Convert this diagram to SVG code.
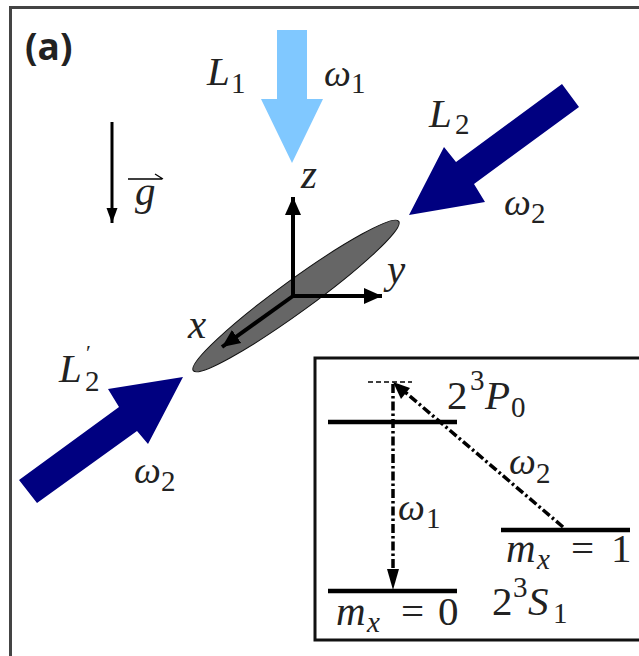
<svg xmlns="http://www.w3.org/2000/svg" width="639" height="656" viewBox="0 0 639 656">
<style>
text{font-family:"Liberation Serif","Times New Roman",serif;fill:#222}
.m{font-size:41px;font-style:italic}
.w{font-size:38px;font-style:italic}
.s{font-size:29px}
.u{font-style:normal}
.n{font-size:41px}
.ln{stroke:#000;fill:none}
.lev{stroke:#000;stroke-width:4.5;fill:none}
.dd{stroke:#000;stroke-width:3.500;stroke-dasharray:9 3 2.5 3;fill:none}
</style>
<defs>
<marker id="ah" markerUnits="userSpaceOnUse" markerWidth="20" markerHeight="20" refX="18" refY="10" orient="auto"><path d="M0,2L18,10L0,18Z" fill="#000"/></marker>
<marker id="ag" markerUnits="userSpaceOnUse" markerWidth="16" markerHeight="14" refX="15" refY="7" orient="auto"><path d="M0,1.500L15,7L0,12.500Z" fill="#000"/></marker>
</defs>
<rect width="639" height="656" fill="#fff"/>
<path id="frame" d="M10.5,656V7.500H639" fill="none" stroke="#444" stroke-width="3"/>
<text id="panel-label" x="25" y="60" style="font-family:'Open Sans','Liberation Sans',sans-serif;font-weight:700;font-size:37px;fill:#222">(a)</text>

<g id="beam-L1">
<path d="M277,30H307V99H323L292,163L261,99H277Z" fill="#80c8ff"/>
<text class="m" x="207" y="85">L<tspan class="s u" x="231" y="93">1</tspan></text>
<text class="w" x="324" y="86">ω<tspan class="s u" x="351" y="93">1</tspan></text>
</g>
<g id="beam-L2">
<path d="M562,84L579,107L474,184L485,202L409,215L444,147L456,162Z" fill="#000080"/>
<text class="m" x="429" y="127">L<tspan class="s u" x="455" y="134">2</tspan></text>
<text class="w" x="504" y="215">ω<tspan class="s u" x="531" y="223">2</tspan></text>
</g>
<g id="beam-L2-prime">
<path d="M19,480L37,503L137,431L148,444L183,377L108,389L119,407Z" fill="#000080"/>
<text class="m" x="59" y="382">L<tspan class="u" x="86" y="360" style="font-size:22px">′</tspan><tspan class="s u" x="85" y="391">2</tspan></text>
<text class="w" x="134" y="483">ω<tspan class="s u" x="161" y="491">2</tspan></text>
</g>
<g id="gravity">
<text class="m" x="135" y="205">g</text>
</g>
<g id="cloud">
<ellipse cx="296" cy="296" rx="127" ry="16" transform="rotate(-36 296 296)" fill="#666" stroke="#111" stroke-width="1"/>
</g>
<g id="axis-labels">
<text class="m" x="301" y="188">z</text>
<text class="m" x="387" y="283">y</text>
<text class="m" x="188" y="338">x</text>
</g>
<g id="connectors">
<line class="ln" stroke-width="3" x1="112" y1="122" x2="112" y2="223" marker-end="url(#ag)"/>
<path d="M128,179H162M155,174L163,179" class="ln" stroke-width="1.300"/>
<line class="ln" stroke-width="4" x1="293" y1="296" x2="293" y2="197" marker-end="url(#ah)"/>
<line class="ln" stroke-width="4" x1="293" y1="296" x2="382" y2="296" marker-end="url(#ah)"/>
<line class="ln" stroke-width="4" x1="293" y1="296" x2="222" y2="347" marker-end="url(#ah)"/>
</g>
<g id="inset">
<rect x="315" y="358" width="326" height="282" fill="#fff" stroke="#111" stroke-width="3"/>
<path d="M368,382H412" stroke="#000" stroke-width="1.500" stroke-dasharray="5 3" fill="none"/>
</g>
<g id="level-P0">
<line class="lev" x1="328" y1="422" x2="457" y2="422"/>
<text class="n" x="447" y="409">2<tspan class="s" x="470" y="390">3</tspan><tspan class="m" x="485" y="409">P</tspan><tspan class="s" x="511" y="417">0</tspan></text>
</g>
<g id="level-m1">
<line class="lev" x1="501" y1="530" x2="630" y2="530"/>
<text class="m" x="506" y="562">m<tspan class="s" x="537" y="569">x</tspan><tspan class="n u" x="571" y="562">=</tspan><tspan class="n u" x="611" y="562">1</tspan></text>
</g>
<g id="level-m0">
<line class="lev" x1="328" y1="591" x2="457" y2="591"/>
<text class="m" x="336" y="625">m<tspan class="s" x="367" y="632">x</tspan><tspan class="n u" x="401" y="625">=</tspan><tspan class="n u" x="438" y="625">0</tspan></text>
<text class="n" x="492" y="615">2<tspan class="s" x="513" y="597">3</tspan><tspan class="m" x="528" y="615">S</tspan><tspan class="s" x="553" y="623">1</tspan></text>
</g>
<g id="transitions">
<line class="dd" x1="393" y1="384" x2="393" y2="572"/>
<path d="M387,569H399L393,590Z" fill="#000"/>
<line class="dd" x1="563" y1="527" x2="405" y2="392"/>
<path d="M393,382L410,388L401,399Z" fill="#000"/>
<text class="w" x="398" y="520">ω<tspan class="s u" x="426" y="528">1</tspan></text>
<text class="w" x="509" y="474">ω<tspan class="s u" x="536" y="483">2</tspan></text>
</g>
</svg>
